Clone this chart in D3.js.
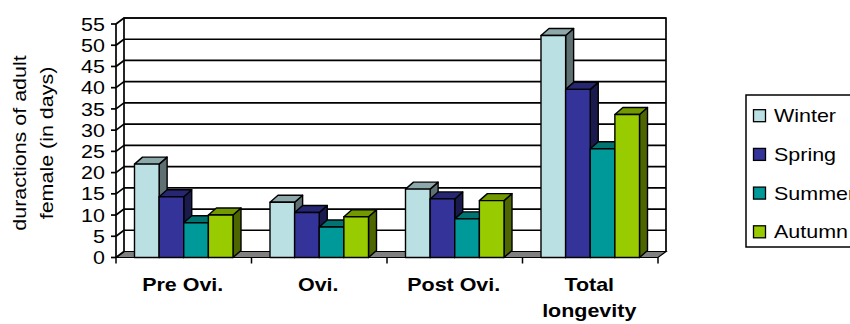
<!DOCTYPE html>
<html>
<head>
<meta charset="utf-8">
<script src="https://cdn.jsdelivr.net/npm/d3@7"></script>
<style>
  html, body { margin: 0; padding: 0; background: #fff; }
  svg { display: block; }
  text { font-family: "Liberation Sans", Arial, sans-serif; fill: #000; }
</style>
</head>
<body>
<svg id="chart" width="850" height="324"></svg>
<script>
// Durations of adult female stages per season
const categories = ["Pre Ovi.", "Ovi.", "Post Ovi.", "Total longevity"];
const categoryLines = [["Pre Ovi."], ["Ovi."], ["Post Ovi."], ["Total", "longevity"]];
const seasons = ["Winter", "Spring", "Summer", "Autumn"];
const winter = [22.0, 13.0, 16.1, 52.3];
const spring = [14.3, 10.6, 13.8, 39.6];
const summer = [8.2, 7.2, 9.1, 25.6];
const autumn = [10.0, 9.6, 13.4, 33.7];
const seriesValues = [winter, spring, summer, autumn];
const yTicks = [0, 5, 10, 15, 20, 25, 30, 35, 40, 45, 50, 55];
const seasonColors = ["#BBE0E3", "#333399", "#009999", "#99CC00"];
const axisTitle = ["duractions of adult", "female (in days)"];

const svg = d3.select("#chart");
const FONT = 18.5, STRETCH = 1.16;

// front plane of the 3D box and the depth offset of the back wall
const x0 = 116, x1 = 658, yBottom = 257.5, yTop = 24;
const wallDx = 8, wallDy = -6;
const barDx = 8, barDy = -7;

const x = d3.scaleBand().domain(categories).range([x0, x1])
  .paddingInner(0.273).paddingOuter(0.1365);
const xs = d3.scaleBand().domain(seasons).range([0, x.bandwidth()]);
const y = d3.scaleLinear().domain([0, 55]).range([yBottom, yTop]);

function widen(sel) {
  sel.each(function () {
    const len = this.getComputedTextLength();
    d3.select(this).attr("textLength", len * STRETCH).attr("lengthAdjust", "spacingAndGlyphs");
  });
}
const shade = (c, k) => { const r = d3.rgb(c); return d3.rgb(r.r * k, r.g * k, r.b * k).formatHex(); };

// floor
const bx0 = x0 + wallDx, bx1 = x1 + wallDx;
svg.append("path")
  .attr("d", `M${x0},${yBottom}L${x1},${yBottom}L${bx1},${yBottom + wallDy}L${bx0},${yBottom + wallDy}Z`)
  .attr("fill", "#808080").attr("stroke", "#000").attr("stroke-width", 1.2);

// back wall gridlines and side wall segments
const grid = svg.append("g").attr("stroke", "#000").attr("stroke-width", 1.7).attr("fill", "none");
yTicks.forEach(v => {
  const yy = y(v);
  if (v > 0) grid.append("line").attr("x1", bx0).attr("x2", bx1).attr("y1", yy + wallDy).attr("y2", yy + wallDy);
  grid.append("line").attr("x1", x0).attr("x2", bx0).attr("y1", yy).attr("y2", yy + wallDy);
  grid.append("line").attr("x1", x0 - 5).attr("x2", x0).attr("y1", yy).attr("y2", yy);
});
// wall outlines
grid.append("path")
  .attr("d", `M${bx0},${yBottom + wallDy}V${y(55) + wallDy}H${bx1}V${yBottom + wallDy}`);
grid.append("line").attr("x1", x0).attr("x2", x0).attr("y1", yBottom).attr("y2", y(55));

// category ticks on the front edge
const catEdges = d3.range(categories.length + 1).map(i => x0 + i * x.step());
svg.append("g").selectAll("line").data(catEdges).join("line")
  .attr("x1", d => d).attr("x2", d => d).attr("y1", yBottom).attr("y2", yBottom + 6)
  .attr("stroke", "#000").attr("stroke-width", 1.5);

// 3D bars
const bars = svg.append("g").attr("stroke", "#000").attr("stroke-width", 1.4).attr("stroke-linejoin", "round");
categories.forEach((cat, ci) => {
  seasons.forEach((s, si) => {
    const v = seriesValues[si][ci];
    const bx = x(cat) + xs(s), bw = xs.bandwidth();
    const top = y(v), bot = y(0);
    const col = seasonColors[si];
    bars.append("path")
      .attr("d", `M${bx + bw},${top}L${bx + bw + barDx},${top + barDy}L${bx + bw + barDx},${bot + barDy}L${bx + bw},${bot}Z`)
      .attr("fill", shade(col, 0.5));
    bars.append("path")
      .attr("d", `M${bx},${top}L${bx + barDx},${top + barDy}L${bx + bw + barDx},${top + barDy}L${bx + bw},${top}Z`)
      .attr("fill", shade(col, 0.75));
    bars.append("rect")
      .attr("x", bx).attr("y", top).attr("width", bw).attr("height", bot - top)
      .attr("fill", col);
  });
});

// y tick labels
svg.append("g").selectAll("text").data(yTicks).join("text")
  .attr("x", 105).attr("y", d => y(d) + 6.6)
  .attr("text-anchor", "end").attr("font-size", FONT)
  .text(d => d).call(widen);

// category labels
categories.forEach((cat, ci) => {
  categoryLines[ci].forEach((line, li) => {
    svg.append("text")
      .attr("x", x(cat) + x.bandwidth() / 2 - 1).attr("y", 291 + li * 26)
      .attr("text-anchor", "middle").attr("font-size", FONT).attr("font-weight", "bold")
      .text(line).call(widen);
  });
});

// y axis title
axisTitle.forEach((line, i) => {
  const tx = [26.3, 53][i];
  svg.append("text")
    .attr("transform", `translate(${tx},143) rotate(-90)`)
    .attr("text-anchor", "middle").attr("font-size", FONT)
    .text(line).call(widen);
});

// legend
const legend = svg.append("g");
legend.append("rect").attr("x", 746).attr("y", 95).attr("width", 110).attr("height", 152)
  .attr("fill", "#fff").attr("stroke", "#000").attr("stroke-width", 1.5);
const rowY = [115.7, 154.4, 193.1, 231.8];
seasons.forEach((s, i) => {
  legend.append("rect").attr("x", 753.5).attr("y", rowY[i] - 6).attr("width", 12).attr("height", 12)
    .attr("fill", seasonColors[i]).attr("stroke", "#000").attr("stroke-width", 1.3);
  legend.append("text").attr("x", 774).attr("y", rowY[i] + 6.6)
    .attr("font-size", FONT).text(s).call(widen);
});
</script>
</body>
</html>
